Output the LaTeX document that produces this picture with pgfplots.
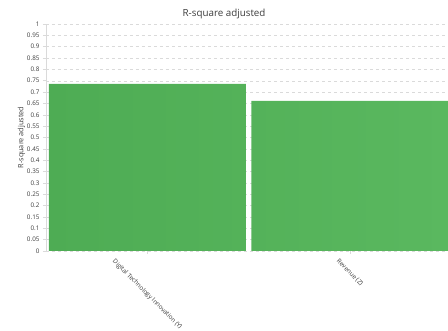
\documentclass[border=0pt]{standalone}
\usepackage{pgfplots}
\pgfplotsset{compat=1.18}
\usepackage{fontspec}
\setmainfont{Open Sans}
\usepackage{graphicx}
\definecolor{barL}{RGB}{78,172,84}
\definecolor{barR}{RGB}{90,184,95}
\definecolor{gridc}{RGB}{218,218,218}
\definecolor{txt}{RGB}{60,60,60}
\begin{document}
\begin{tikzpicture}
\begin{axis}[
  at={(46pt,80pt)}, anchor=south west,
  scale only axis, width=402pt, height=227pt,
  xmin=-0.5, xmax=1.485, ymin=0, ymax=1,
  ytick={0,0.05,...,1.0001},
  yticklabel style={/pgf/number format/.cd, fixed, precision=2},
  /pgf/number format/assume math mode=true,
  xtick={0,1},
  xticklabels={\rotatebox{-45}{Digital Technology Innovation (Y)},\rotatebox{-45}{Revenue (Z)}},
  xticklabel style={anchor=north, yshift=-1pt},
  tick label style={font=\fontsize{6.3}{7}\selectfont, text=txt},
  ymajorgrids, grid style={gridc, dashed, line width=0.4pt},
  axis x line=bottom, axis y line=left,
  axis line style={draw=gridc, -},
  x axis line style={draw=none},
  tick style={draw=gridc, line width=0.5pt},
  tick align=outside, major tick length=3pt,
  ylabel={R-square adjusted},
  ylabel style={font=\fontsize{7.3}{8}\selectfont, text=txt, yshift=-5pt},
  title={R-square adjusted},
  title style={at={(axis description cs:0.443,1)}, anchor=south, yshift=-4pt, font=\fontsize{9.8}{11}\selectfont, text=txt},
  ybar, bar width=197pt, bar shift=0pt,
  clip=true,
]
\addplot[draw=none, left color=barL, right color=barR] coordinates {(0,0.736) (1,0.661)};
\end{axis}
\pgfresetboundingbox
\useasboundingbox (0,0) rectangle (448pt,331pt);
\end{tikzpicture}
\end{document}
